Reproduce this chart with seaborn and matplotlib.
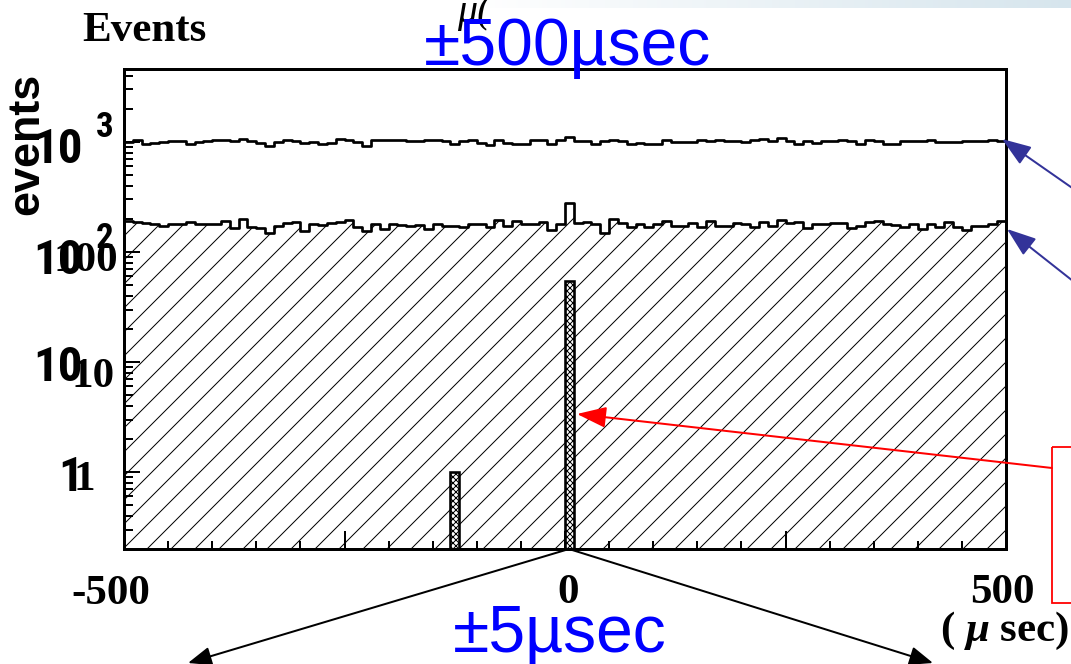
import numpy as np
import pandas as pd
import matplotlib
matplotlib.use("Agg")
import matplotlib.pyplot as plt
import seaborn as sns
from matplotlib import font_manager
from matplotlib.ticker import FixedLocator, MultipleLocator, LogLocator, NullFormatter
from matplotlib.patches import Rectangle

# ---------------- data ----------------
bin_edges = list(np.linspace(-500, 500, 101))          # 10 usec bins
all_events = [995, 1035, 960, 980, 995, 1010, 1030, 965, 995, 1010, 1035, 1035, 1030, 1060, 1020, 980, 925,
              995, 1035, 1015, 980, 1000, 965, 980, 1060, 1035, 995, 915, 1035, 1035, 1050, 1050, 1010,
              1020, 1045, 1035, 1010, 965, 1010, 1050, 980, 940, 1035, 980, 965, 965, 1035, 1035, 965, 1050,
              1115, 1020, 1020, 955, 1010, 1050, 1010, 965, 980, 955, 955, 1035, 995, 995, 995, 1035, 1020,
              1050, 1030, 1020, 1000, 1035, 1065, 1010, 1080, 1010, 955, 1020, 980, 1020, 1020, 1035, 1015, 965,
              1050, 1020, 955, 965, 1010, 1010, 1010, 1035, 995, 995, 1000, 1010, 1020, 1020, 1035, 1020]
selected_events = [192, 189, 183, 179, 174, 179, 181, 188, 179, 179, 179, 192, 165, 200, 167, 165, 150,
                   173, 185, 189, 155, 181, 177, 184, 189, 195, 167, 154, 181, 161, 181, 177, 172,
                   177, 163, 179, 172, 174, 167, 179, 181, 167, 195, 172, 192, 179, 179, 189, 158, 181,
                   276, 185, 188, 179, 150, 200, 185, 167, 181, 167, 179, 192, 172, 172, 184, 167, 192,
                   174, 174, 184, 181, 167, 189, 172, 195, 185, 189, 165, 179, 179, 184, 184, 165, 172,
                   189, 192, 181, 177, 170, 179, 163, 181, 167, 189, 167, 160, 174, 174, 181, 192]
spike_left_edges = [-130, 0]
spike_counts = [1, 54]
spike_width = 10

x_major_ticks = [-500, -250, 0, 250, 500]
x_tick_labels = ["-500", "0", "500"]
y_major_ticks = [1, 10, 100, 1000]
serif_y_labels = ["100", "10", "1"]
sans_y_labels = ["10", "10", "10", "1"]
sans_y_exponents = ["3", "2"]

centers = [(a + b) / 2 for a, b in zip(bin_edges[:-1], bin_edges[1:])]
df = pd.DataFrame({"t": centers, "all": all_events, "sel": selected_events})

# ---------------- style ----------------
DPI = 144
W, H = 1071, 664
sns.set_style("white")
names = {f.name for f in font_manager.fontManager.ttflist}
SERIF = "Liberation Serif"
SANS = "Liberation Sans"
NARROW = SANS
for cand in ["Liberation Sans Narrow", "Roboto Condensed", "Noto Sans Condensed",
             "Open Sans Condensed", "DejaVu Sans Condensed"]:
    if cand in names:
        NARROW = cand
        break
plt.rcParams["font.family"] = [SANS, "DejaVu Sans"]
plt.rcParams["hatch.linewidth"] = 0.5
plt.rcParams["hatch.color"] = "black"
plt.rcParams["mathtext.fontset"] = "custom"
plt.rcParams["mathtext.rm"] = "Liberation Serif:bold"
plt.rcParams["mathtext.it"] = "Liberation Serif:italic:bold"
plt.rcParams["mathtext.bf"] = "Liberation Serif:bold"

fig = plt.figure(figsize=(W / DPI, H / DPI), dpi=DPI)
fig.patch.set_facecolor("white")

L, R, T, B = 124, 1006, 69, 549
ax = fig.add_axes([L / W, 1 - B / H, (R - L) / W, (B - T) / H])

# hatched area under the selected-events histogram
sns.histplot(data=df, x="t", weights="sel", bins=bin_edges, element="step", fill=True,
             color="black", alpha=1, linewidth=0, ax=ax)
poly = ax.collections[-1]
poly.set_facecolor("none")
poly.set_edgecolor("black")
poly.set_linewidth(0)
poly.set_hatch("//")

# cross-hatched spikes
for left, cnt in zip(spike_left_edges, spike_counts):
    sdf = pd.DataFrame({"t": [left + spike_width / 2], "n": [cnt]})
    sns.histplot(data=sdf, x="t", weights="n", bins=[left, left + spike_width],
                 element="bars", fill=True, color="white", alpha=1, ax=ax)
for p in ax.patches:
    p.set_facecolor("white")
    p.set_edgecolor("black")
    p.set_linewidth(1.3)
    p.set_hatch("xxxxxxxx")

# step outlines
sns.histplot(data=df, x="t", weights="all", bins=bin_edges, element="step", fill=False,
             color="black", linewidth=1.35, ax=ax)
sns.histplot(data=df, x="t", weights="sel", bins=bin_edges, element="step", fill=False,
             color="black", linewidth=1.35, ax=ax)

ax.set_yscale("log")
ax.set_xlim(-500, 500)
ax.set_ylim(0.2, 4600)
ax.set_xlabel("")
ax.set_ylabel("")
ax.set_facecolor("white")

ax.xaxis.set_major_locator(FixedLocator(x_major_ticks))
ax.xaxis.set_minor_locator(MultipleLocator(50))
ax.yaxis.set_major_locator(FixedLocator(y_major_ticks))
ax.yaxis.set_minor_locator(LogLocator(base=10, subs=np.arange(2, 10)))
ax.yaxis.set_minor_formatter(NullFormatter())
ax.tick_params(axis="both", which="both", direction="in", top=False, right=False,
               bottom=True, left=True,
               labelbottom=False, labelleft=False, width=1.0, color="black")
ax.tick_params(axis="x", which="major", length=9)
ax.tick_params(axis="x", which="minor", length=4)
ax.tick_params(axis="y", which="major", length=8)
ax.tick_params(axis="y", which="minor", length=4.5)
for s in ax.spines.values():
    s.set_linewidth(1.5)
    s.set_color("black")
    s.set_visible(True)

# ---------------- overlay (pixel coordinates) ----------------
ov = fig.add_axes([0, 0, 1, 1], zorder=10)
ov.patch.set_alpha(0)

# light band at the top right
grad = np.zeros((1, 200, 4))
grad[0, :, 0] = 0.84
grad[0, :, 1] = 0.90
grad[0, :, 2] = 0.93
grad[0, :, 3] = np.linspace(0, 1, 200)
ov.imshow(grad, extent=(470, 1071, 8, 0), aspect="auto", interpolation="bilinear")

ov.set_xlim(0, W)
ov.set_ylim(H, 0)
ov.axis("off")

bold_serif = dict(fontfamily=SERIF, fontweight="bold", color="black")
ov.text(82, 41, "Events", fontsize=21.5, ha="left", va="baseline", **bold_serif)
ov.text(457, 22, "\u03bc(", fontfamily=SERIF, fontstyle="italic", fontsize=20, color="black",
        ha="left", va="baseline")

ov.text(38, 144, "events", rotation=90, rotation_mode="anchor", ha="center", va="baseline",
        fontfamily=SANS, fontweight="bold", fontsize=22.5, color="black")

# y labels, sans set
sans_size = 24.5 if NARROW != SANS else 22.5
sans_pos = [(83, 163), (83, 274), (83, 381), (83, 491)]
for lab, (px, py) in zip(sans_y_labels, sans_pos):
    ov.text(px, py, lab, ha="right", va="baseline", fontfamily=NARROW, fontweight="bold",
            fontsize=sans_size, color="black")
for lab, (px, py) in zip(sans_y_exponents, [(96, 137), (96, 248)]):
    ov.text(px, py, lab, ha="left", va="baseline", fontfamily=NARROW, fontweight="bold",
            fontsize=17.5, color="black")
# y labels, serif set
for lab, (px, py) in zip(serif_y_labels, [(118, 271), (115, 387), (95, 490)]):
    ov.text(px, py, lab, ha="right", va="baseline", fontsize=21.5, **bold_serif)
# x labels
for lab, (px, py) in zip(x_tick_labels, [(111, 604), (568, 603), (1002, 603)]):
    ov.text(px, py, lab, ha="center", va="baseline", fontsize=21.5, **bold_serif)
ov.text(1005, 641, r"( $\mu$ sec)", ha="center", va="baseline", fontsize=21.5, **bold_serif)

# blue annotations
ov.text(568, 65, "\u00b1500\u00b5sec", ha="center", va="baseline", fontfamily=SANS,
        fontsize=33, color="#0000ff")
ov.text(560, 652, "\u00b15\u00b5sec", ha="center", va="baseline", fontfamily=SANS,
        fontsize=33, color="#0000ff")

def arrow(tip, tail, color, hl=1.25, hw=0.45):
    ov.annotate("", xy=tip, xytext=tail, annotation_clip=False,
                arrowprops=dict(arrowstyle=f"-|>,head_length={hl},head_width={hw}",
                                mutation_scale=10, color=color, lw=1.0,
                                shrinkA=0, shrinkB=0))

arrow((1002, 139), (1078, 192), "#333399")
arrow((1007, 229), (1078, 285), "#333399")
arrow((577, 414), (1052, 468), "#ff0000")
arrow((188, 663), (569, 549), "black", hl=1.0, hw=0.4)
arrow((933, 663), (569, 549), "black", hl=1.0, hw=0.4)

ov.add_patch(Rectangle((1052, 447), 40, 156, fill=False, edgecolor="#ff0000", lw=0.9,
                       clip_on=False))

fig.savefig("out.png", dpi=DPI)
